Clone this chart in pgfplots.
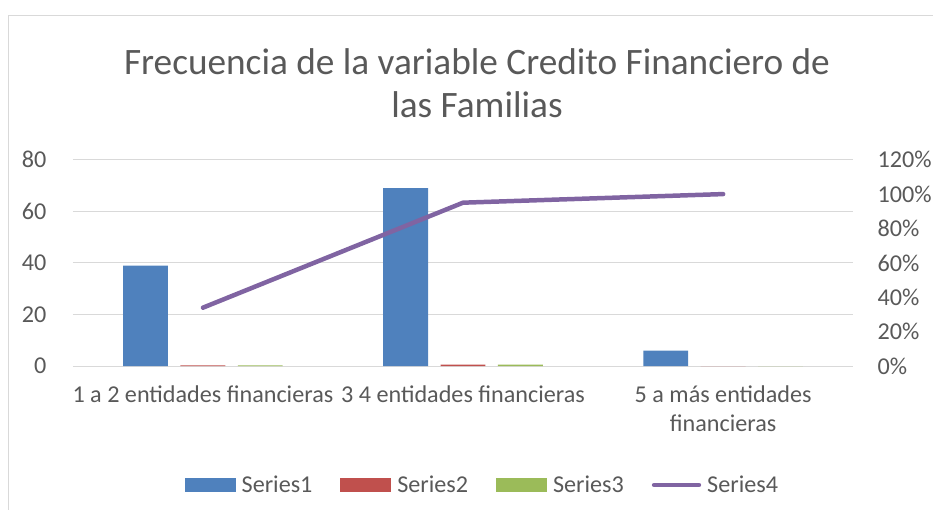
\documentclass[border=0pt]{standalone}
\usepackage{fontspec}
\setmainfont{Carlito}
\usepackage{pgfplots}
\pgfplotsset{compat=1.18}
\definecolor{sOne}{RGB}{79,129,189}
\definecolor{sTwo}{RGB}{192,80,77}
\definecolor{sThree}{RGB}{155,187,89}
\definecolor{sFour}{RGB}{128,100,162}
\definecolor{txt}{RGB}{89,89,89}
\definecolor{gridc}{RGB}{217,217,217}
\newcommand{\tickfont}{\fontsize{24.3}{29}\selectfont}
\begin{document}
\begin{tikzpicture}[x=1bp,y=1bp]
\path (0,0) rectangle (935,511);
% chart frame (only left and top edges visible)
\draw[gridc, line width=1.5bp] (8.5,0) -- (8.5,495.5) -- (935,495.5);
\node[font=\fontsize{37.5}{43}\selectfont, text=txt, align=center] at (478,427.5)
  {Frecuencia de la variable Credito Financiero de\\las Familias};

\begin{axis}[
    at={(73bp,144bp)}, anchor=south west,
    scale only axis, width=782bp, height=207bp,
    xmin=-0.5, xmax=2.5, ymin=0, ymax=80,
    ytick={0,20,40,60,80},
    xtick={0,1,2},
    xticklabels={1 a 2 entidades financieras, 3 4 entidades financieras, 5 a más entidades\\financieras},
    axis x line*=bottom, axis y line*=left,
    axis line style={draw=none},
    major tick length=0pt,
    ymajorgrids, grid style={gridc, line width=1bp},
    /pgf/number format/assume math mode=true,
    tick label style={font=\tickfont, text=txt},
    yticklabel style={xshift=-23bp},
    xticklabel style={align=center, yshift=-16bp},
    ybar=12.5bp, bar width=45bp,
    legend style={at={(0.1432,-0.575)}, anchor=west, draw=none, fill=none,
        inner sep=0pt, legend columns=4, font=\tickfont, text=txt,
        /tikz/every odd column/.style={column sep=6bp},
        nodes={inner sep=0pt, text width=99bp, align=left}},
    legend cell align=left,
]
\addplot[fill=sOne, draw=none,
  legend image code/.code={\fill[sOne] (0bp,-7.5bp) rectangle (51bp,7.5bp);}]
  coordinates {(0,39) (1,69) (2,6)};
\addplot[fill=sTwo, draw=none,
  legend image code/.code={\fill[sTwo] (0bp,-7.5bp) rectangle (51bp,7.5bp);}]
  coordinates {(0,0.34) (1,0.6) (2,0.05)};
\addplot[fill=sThree, draw=none,
  legend image code/.code={\fill[sThree] (0bp,-7.5bp) rectangle (51bp,7.5bp);}]
  coordinates {(0,0.34) (1,0.6) (2,0.05)};
\addlegendimage{legend image code/.code={\draw[sFour, line width=4.5bp, line cap=round] (2.5bp,0bp) -- (47.5bp,0bp);}}
\legend{Series1,Series2,Series3,Series4}
\end{axis}

\begin{axis}[
    at={(73bp,144bp)}, anchor=south west,
    scale only axis, width=782bp, height=207bp,
    xmin=-0.5, xmax=2.5, ymin=0, ymax=1.2,
    axis x line=none, axis y line*=right,
    axis line style={draw=none},
    major tick length=0pt,
    ytick={0,0.2,0.4,0.6,0.8,1.0,1.2},
    yticklabels={0\%,20\%,40\%,60\%,80\%,100\%,120\%},
    tick label style={font=\tickfont, text=txt},
    yticklabel style={xshift=21bp},
]
\addplot[sFour, line width=4.5bp, line cap=round, line join=round, mark=none]
  coordinates {(0,0.34) (1,0.95) (2,1.0)};
\end{axis}
\end{tikzpicture}
\end{document}
